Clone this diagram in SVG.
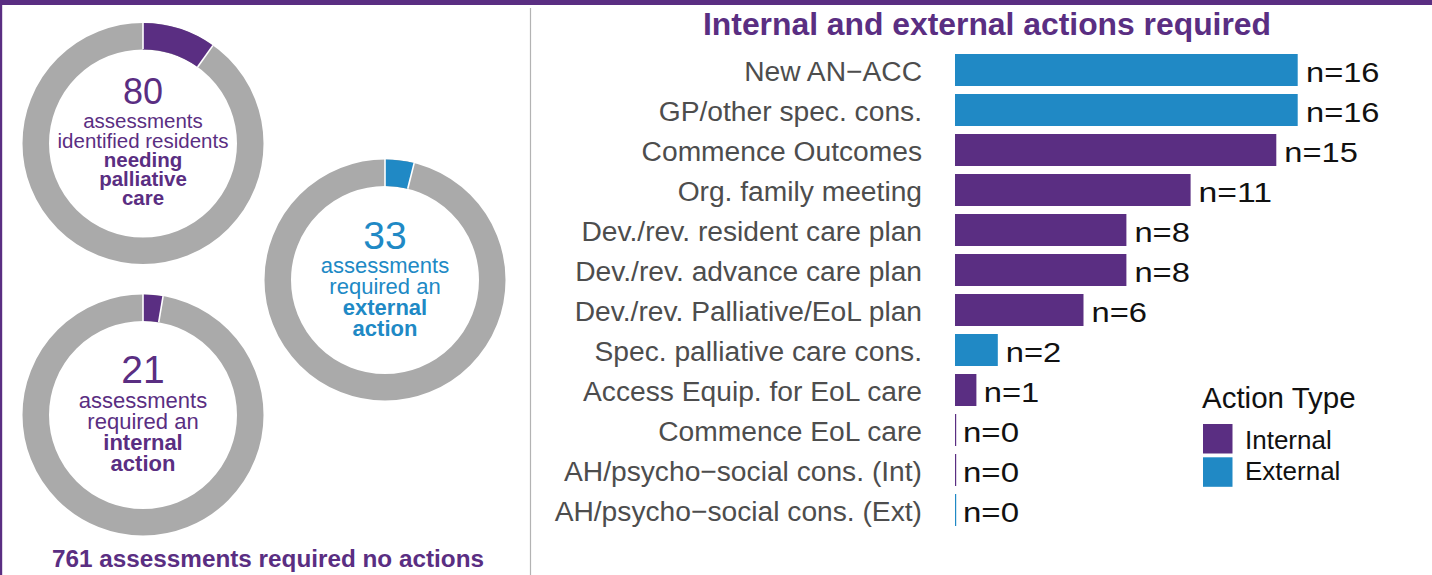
<svg xmlns="http://www.w3.org/2000/svg" width="1432" height="575" viewBox="0 0 1432 575">
<style>
text{font-family:"Liberation Sans",Arial,sans-serif}
.pu{fill:#5a2e82}
.bl{fill:#2089c5}
.ring{fill:none;stroke:#aaaaaa;stroke-width:26.5}
.segp{fill:none;stroke:#5a2e82;stroke-width:26.5}
.segb{fill:none;stroke:#2089c5;stroke-width:26.5}
.sep{stroke:#ffffff;stroke-width:1.6}
.lbl{font-size:28.2px;fill:#4d4d4d;text-anchor:end}
.val{font-size:28px;fill:#111111}
.mid{text-anchor:middle}
.b{font-weight:bold}
</style>
<rect x="0" y="0" width="1432" height="575" fill="#ffffff"/>
<rect x="0" y="0" width="1432" height="5" class="pu"/>
<rect x="0" y="0" width="2.2" height="575" class="pu"/>
<line x1="530.5" y1="8" x2="530.5" y2="575" stroke="#b3b3b3" stroke-width="1.2"/>

<g id="donut-palliative">
<circle cx="143" cy="143.5" r="107.25" class="ring"/>
<path d="M143 36.25 A107.25 107.25 0 0 1 205.28 56.19" class="segp"/>
<line x1="143" y1="49" x2="143" y2="22" class="sep"/>
<line x1="197.59" y1="66.97" x2="212.97" y2="45.40" class="sep"/>
<text x="143" y="104" class="pu mid" font-size="36">80</text>
<text x="143" y="128.3" class="pu mid" font-size="20.5">assessments</text>
<text x="143" y="147.5" class="pu mid" font-size="20.5">identified residents</text>
<text x="143" y="166.7" class="pu mid b" font-size="20.5">needing</text>
<text x="143" y="185.7" class="pu mid b" font-size="20.5">palliative</text>
<text x="143" y="205" class="pu mid b" font-size="20.5">care</text>
</g>

<g id="donut-external">
<circle cx="385" cy="280" r="107.25" class="ring"/>
<path d="M385 172.75 A107.25 107.25 0 0 1 410.95 175.93" class="segb"/>
<line x1="385" y1="187" x2="385" y2="158.5" class="sep"/>
<line x1="407.74" y1="188.79" x2="414.15" y2="163.08" class="sep"/>
<text x="385" y="249" class="bl mid" font-size="39">33</text>
<text x="385" y="273.3" class="bl mid" font-size="22">assessments</text>
<text x="385" y="294.3" class="bl mid" font-size="22">required an</text>
<text x="385" y="315.3" class="bl mid b" font-size="22">external</text>
<text x="385" y="336.3" class="bl mid b" font-size="22">action</text>
</g>

<g id="donut-internal">
<circle cx="143" cy="415" r="107.25" class="ring"/>
<path d="M143 307.75 A107.25 107.25 0 0 1 160.89 309.25" class="segp"/>
<line x1="143" y1="322" x2="143" y2="293.5" class="sep"/>
<line x1="158.68" y1="322.32" x2="163.10" y2="296.19" class="sep"/>
<text x="143" y="383.3" class="pu mid" font-size="39">21</text>
<text x="143" y="408.3" class="pu mid" font-size="22">assessments</text>
<text x="143" y="429.3" class="pu mid" font-size="22">required an</text>
<text x="143" y="450.3" class="pu mid b" font-size="22">internal</text>
<text x="143" y="471" class="pu mid b" font-size="22">action</text>
</g>

<g id="no-action-note">
<text x="268" y="567.3" class="pu mid b" font-size="23" textLength="432" lengthAdjust="spacingAndGlyphs">761 assessments required no actions</text>
</g>

<g id="bar-chart">
<text x="987" y="35" class="pu mid b" font-size="31" textLength="568" lengthAdjust="spacingAndGlyphs">Internal and external actions required</text>

<g id="row-0">
<text x="922" y="81" class="lbl">New AN−ACC</text>
<rect x="955" y="54" width="342.7" height="32" class="bl"/>
<text x="1306" y="81.5" class="val" textLength="73.5" lengthAdjust="spacingAndGlyphs">n=16</text>
</g>
<g id="row-1">
<text x="922" y="121" class="lbl">GP/other spec. cons.</text>
<rect x="955" y="94" width="342.7" height="32" class="bl"/>
<text x="1306" y="121.5" class="val" textLength="73.5" lengthAdjust="spacingAndGlyphs">n=16</text>
</g>
<g id="row-2">
<text x="922" y="161" class="lbl">Commence Outcomes</text>
<rect x="955" y="134" width="321.3" height="32" class="pu"/>
<text x="1284.3" y="161.5" class="val" textLength="73.5" lengthAdjust="spacingAndGlyphs">n=15</text>
</g>
<g id="row-3">
<text x="922" y="201" class="lbl">Org. family meeting</text>
<rect x="955" y="174" width="235.6" height="32" class="pu"/>
<text x="1198.6" y="201.5" class="val" textLength="73.5" lengthAdjust="spacingAndGlyphs">n=11</text>
</g>
<g id="row-4">
<text x="922" y="241" class="lbl">Dev./rev. resident care plan</text>
<rect x="955" y="214" width="171.4" height="32" class="pu"/>
<text x="1134.4" y="241.5" class="val" textLength="55.5" lengthAdjust="spacingAndGlyphs">n=8</text>
</g>
<g id="row-5">
<text x="922" y="281" class="lbl">Dev./rev. advance care plan</text>
<rect x="955" y="254" width="171.4" height="32" class="pu"/>
<text x="1134.4" y="281.5" class="val" textLength="55.5" lengthAdjust="spacingAndGlyphs">n=8</text>
</g>
<g id="row-6">
<text x="922" y="321" class="lbl">Dev./rev. Palliative/EoL plan</text>
<rect x="955" y="294" width="128.5" height="32" class="pu"/>
<text x="1091.5" y="321.5" class="val" textLength="55.5" lengthAdjust="spacingAndGlyphs">n=6</text>
</g>
<g id="row-7">
<text x="922" y="361" class="lbl">Spec. palliative care cons.</text>
<rect x="955" y="334" width="42.8" height="32" class="bl"/>
<text x="1005.8" y="361.5" class="val" textLength="55.5" lengthAdjust="spacingAndGlyphs">n=2</text>
</g>
<g id="row-8">
<text x="922" y="401" class="lbl">Access Equip. for EoL care</text>
<rect x="955" y="374" width="21.4" height="32" class="pu"/>
<text x="983.8" y="401.5" class="val" textLength="55.5" lengthAdjust="spacingAndGlyphs">n=1</text>
</g>
<g id="row-9">
<text x="922" y="441" class="lbl">Commence EoL care</text>
<rect x="955" y="414" width="1.2" height="32" class="pu"/>
<text x="963" y="441.5" class="val" textLength="56" lengthAdjust="spacingAndGlyphs">n=0</text>
</g>
<g id="row-10">
<text x="922" y="481" class="lbl">AH/psycho−social cons. (Int)</text>
<rect x="955" y="454" width="1.2" height="32" class="pu"/>
<text x="963" y="481.5" class="val" textLength="56" lengthAdjust="spacingAndGlyphs">n=0</text>
</g>
<g id="row-11">
<text x="922" y="521" class="lbl">AH/psycho−social cons. (Ext)</text>
<rect x="955" y="494" width="1.2" height="32" class="bl"/>
<text x="963" y="521.5" class="val" textLength="56" lengthAdjust="spacingAndGlyphs">n=0</text>
</g>
</g>

<g id="legend">
<text x="1202" y="408.3" font-size="29.5" fill="#111111">Action Type</text>
<rect x="1203" y="424" width="29.5" height="29.5" class="pu"/>
<rect x="1203" y="457.3" width="29.5" height="29.5" class="bl"/>
<text x="1245" y="449.3" font-size="26" fill="#111111">Internal</text>
<text x="1245" y="480.3" font-size="26" fill="#111111">External</text>
</g>
</svg>
